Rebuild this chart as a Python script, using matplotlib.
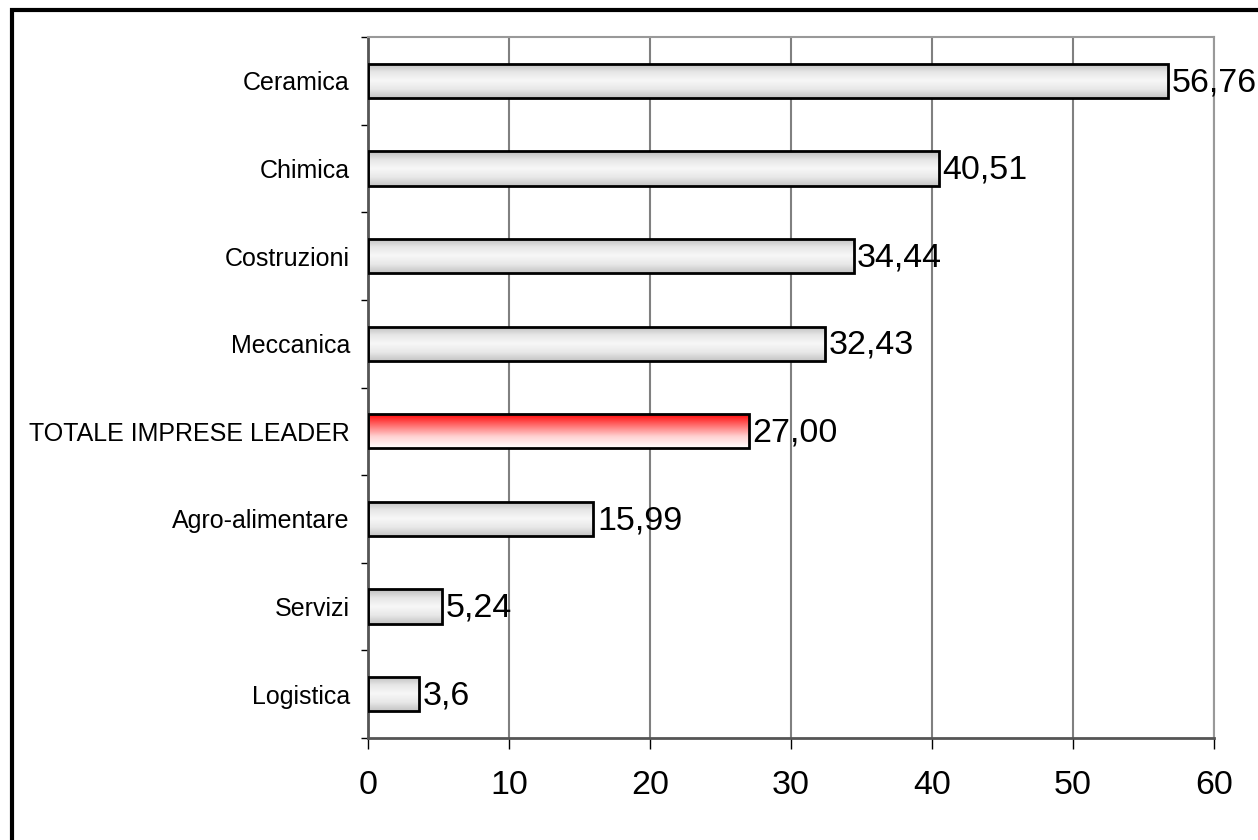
import matplotlib
matplotlib.use("Agg")
import matplotlib.pyplot as plt
import numpy as np
from matplotlib.colors import LinearSegmentedColormap
from matplotlib.patches import Rectangle

# data (top to bottom)
categories = ["Ceramica", "Chimica", "Costruzioni", "Meccanica",
              "TOTALE IMPRESE LEADER", "Agro-alimentare", "Servizi", "Logistica"]
values = [56.76, 40.51, 34.44, 32.43, 27.00, 15.99, 5.24, 3.6]
value_labels = ["56,76", "40,51", "34,44", "32,43", "27,00", "15,99", "5,24", "3,6"]
highlight = "TOTALE IMPRESE LEADER"
x_ticks = [0, 10, 20, 30, 40, 50, 60]

plt.rcParams['font.family'] = ['Liberation Sans', 'DejaVu Sans']

fig = plt.figure(figsize=(12.58, 8.4), dpi=100)
ax = fig.add_axes([368 / 1258, 1 - 738 / 840, (1214 - 368) / 1258, (738 - 37) / 840])

grey_cmap = LinearSegmentedColormap.from_list(
    "greybar", ["#bdbdbd", "#e6e6e6", "#f7f7f7", "#e8e8e8", "#c4c4c4"])
red_cmap = LinearSegmentedColormap.from_list(
    "redbar", ["#ff0000", "#ff6a6a", "#ffd0d0", "#ffffff"])

pos = np.arange(len(categories))
bars = ax.barh(pos, values, height=0.39, color="none", edgecolor="black",
               linewidth=2, zorder=3)

grad = np.linspace(0, 1, 100).reshape(-1, 1)
for cat, bar in zip(categories, bars):
    x0, y0 = bar.get_x(), bar.get_y()
    w, h = bar.get_width(), bar.get_height()
    cmap = red_cmap if cat == highlight else grey_cmap
    # extent with y going top -> bottom since axis is inverted
    im = ax.imshow(grad, cmap=cmap, aspect="auto", extent=(x0, x0 + w, y0 + h, y0),
                   zorder=2, interpolation="bilinear")
    im.set_clip_path(bar)

for p, v, lab in zip(pos, values, value_labels):
    ax.text(v + 0.25, p + 0.02, lab, va="center", ha="left", fontsize=24.5, zorder=4)

ax.set_xlim(0, 60)
ax.set_ylim(len(categories) - 0.5, -0.5)
ax.set_xticks(x_ticks)
ax.set_xticklabels([str(t) for t in x_ticks], fontsize=24.5)
ax.tick_params(axis="x", direction="out", length=8, width=1, color="black", pad=15)

ax.set_yticks(np.arange(len(categories) + 1) - 0.5)
ax.set_yticklabels([])
ax.tick_params(axis="y", which="major", direction="out", length=5, width=1, color="black")
ax.set_yticks(pos, minor=True)
ax.set_yticklabels(categories, minor=True, fontsize=18)
ax.tick_params(axis="y", which="minor", length=0, pad=13)

ax.grid(axis="x", color="#808080", linewidth=1.5, zorder=0)
ax.set_axisbelow(True)
for side in ["top", "right"]:
    ax.spines[side].set_color("#999999")
    ax.spines[side].set_linewidth(1.5)
for side in ["left", "bottom"]:
    ax.spines[side].set_color("#555555")
    ax.spines[side].set_linewidth(2)

# outer frame around the chart
fig.patches.append(Rectangle((12 / 1258, -0.05), 1.1, 1 - 10.5 / 840 + 0.05,
                             transform=fig.transFigure, fill=False,
                             edgecolor="black", linewidth=3))

fig.savefig("out.png", dpi=100)
